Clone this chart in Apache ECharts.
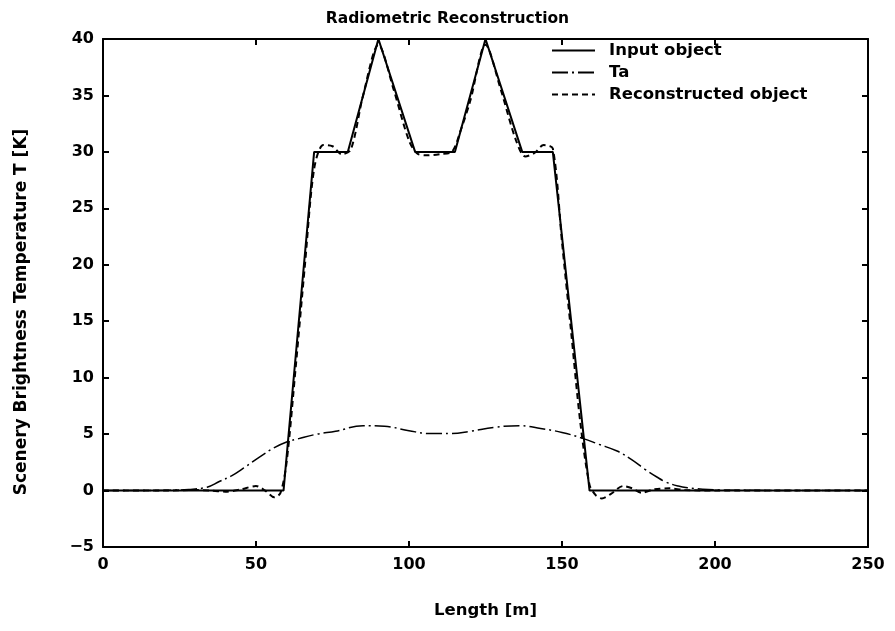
<!DOCTYPE html>
<html><head><meta charset="utf-8">
<script src="https://cdn.jsdelivr.net/npm/echarts@6/dist/echarts.min.js"></script>
<style>html,body{margin:0;padding:0;background:#fff}#c{width:895px;height:631px}</style>
</head><body><div id="c"></div>
<script>
const inputX = [0, 59, 69, 80, 90, 102, 115, 125, 137, 147, 159, 250];
const inputY = [0, 0, 30, 30, 40, 30, 30, 40, 30, 30, 0, 0];

const taX = [0, 20, 28, 34, 38, 42, 46, 51, 56, 60, 64, 70, 76, 85, 92, 100, 107, 114, 120, 128, 136, 143, 150, 157, 162, 168, 173, 177, 181, 184, 188, 191, 196, 205, 250];
const taY = [0, 0.02, 0.1, 0.3, 0.8, 1.3, 2.0, 2.95, 3.8, 4.3, 4.6, 5.0, 5.25, 5.75, 5.7, 5.3, 5.05, 5.05, 5.25, 5.6, 5.75, 5.5, 5.15, 4.6, 4.1, 3.5, 2.7, 1.9, 1.2, 0.75, 0.4, 0.25, 0.12, 0.03, 0];

const recX = [0, 20, 30, 35, 40, 45, 50, 53, 56, 58, 60, 63, 66, 69, 72, 75, 78, 81, 85, 90, 95, 100, 103, 106, 110, 114, 117, 120, 125, 130, 135, 138, 141, 144, 147, 150, 153, 156, 159, 161, 163, 166, 170, 173, 176, 180, 185, 190, 200, 250];
const recY = [0, 0, 0.05, 0, -0.1, 0.1, 0.4, 0, -0.6, -0.2, 2.5, 11, 20, 28.5, 30.6, 30.5, 29.8, 30.2, 35, 39.5, 35.5, 31, 29.8, 29.7, 29.8, 30, 32, 34.5, 39.5, 35.5, 31, 29.6, 29.9, 30.6, 30.3, 22, 14, 6, 0.5, -0.4, -0.7, -0.3, 0.4, 0.2, -0.2, 0.1, 0.2, 0.05, 0, 0];

const xTicks = [0, 50, 100, 150, 200, 250];
const yTicks = [-5, 0, 5, 10, 15, 20, 25, 30, 35, 40];

const zip = (xs, ys) => xs.map((x, i) => [x, ys[i]]);
const font = 'DejaVu Sans, Verdana, sans-serif';
const chart = echarts.init(document.getElementById('c'));
const axisBase = {
  axisLine: { show: true, onZero: false, lineStyle: { color: '#000', width: 2 } },
  axisTick: { show: true, inside: true, length: 6, lineStyle: { color: '#000', width: 2 } },
  splitLine: { show: false }
};
chart.setOption({
  animation: false,
  backgroundColor: '#fff',
  title: { text: 'Radiometric Reconstruction', left: 'center', top: 6,
    textStyle: { fontFamily: font, fontSize: 15.5, fontWeight: 'bold', color: '#000' } },
  grid: { left: 103, right: 27, top: 39, bottom: 84 },
  graphic: [{
    type: 'text', x: 22, y: 312, rotation: Math.PI / 2,
    style: { text: 'Scenery Brightness Temperature T [K]', fill: '#000',
      font: 'bold 17px DejaVu Sans, sans-serif', textAlign: 'center', textVerticalAlign: 'middle' }
  }],
  legend: {
    orient: 'vertical', left: 546, top: 37, itemWidth: 43, itemHeight: 14, itemGap: 5,
    itemStyle: { opacity: 0 },
    textStyle: { fontFamily: font, fontSize: 16.5, fontWeight: 'bold', color: '#000', padding: [0, 0, 0, 9] },
    data: ['Input object', 'Ta', 'Reconstructed object']
  },
  xAxis: [
    Object.assign({}, axisBase, { type: 'value', min: 0, max: 250, interval: 50,
      name: 'Length [m]', nameLocation: 'middle', nameGap: 55,
      nameTextStyle: { fontFamily: font, fontSize: 16.5, fontWeight: 'bold', color: '#000' },
      axisLabel: { fontFamily: font, fontSize: 16, fontWeight: 'bold', color: '#000', margin: 10,
        formatter: v => xTicks.includes(v) ? String(v) : '' } }),
    Object.assign({}, axisBase, { type: 'value', min: 0, max: 250, interval: 50, position: 'top',
      axisLabel: { show: false } })
  ],
  yAxis: [
    Object.assign({}, axisBase, { type: 'value', min: -5, max: 40, interval: 5,
      axisLabel: { fontFamily: font, fontSize: 16, fontWeight: 'bold', color: '#000', margin: 9,
        formatter: v => yTicks.includes(v) ? (v < 0 ? '\u2212' + Math.abs(v) : String(v)) : '' } }),
    Object.assign({}, axisBase, { type: 'value', min: -5, max: 40, interval: 5, position: 'right',
      axisLabel: { show: false } })
  ],
  series: [
    { name: 'Input object', type: 'line', data: zip(inputX, inputY), symbol: 'none',
      lineStyle: { color: '#000', width: 2 }, itemStyle: { color: '#000' } },
    { name: 'Ta', type: 'line', data: zip(taX, taY), symbol: 'none', smooth: 0.4,
      lineStyle: { color: '#000', width: 1.5, type: [16, 4, 2, 4] }, itemStyle: { color: '#000' } },
    { name: 'Reconstructed object', type: 'line', data: zip(recX, recY), symbol: 'none', smooth: 0.3,
      lineStyle: { color: '#000', width: 2, type: [6, 4] }, itemStyle: { color: '#000' } }
  ]
});
</script></body></html>
